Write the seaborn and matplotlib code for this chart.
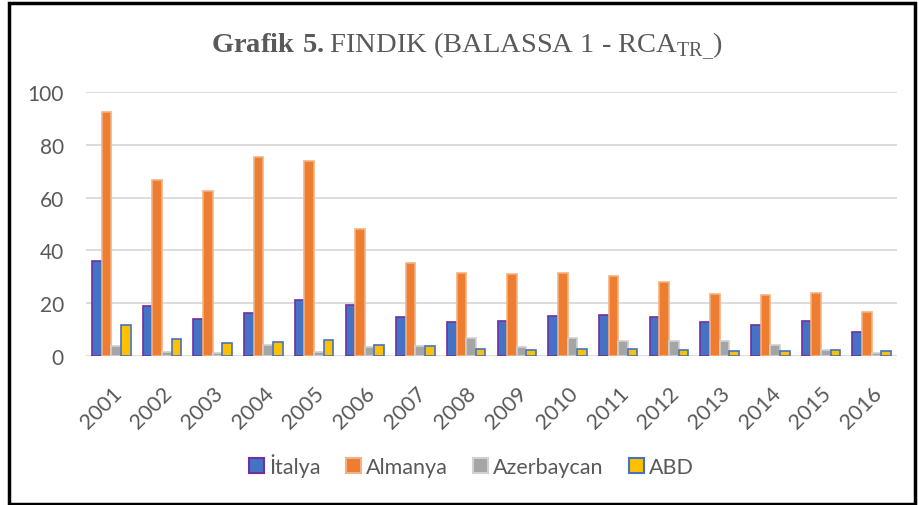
import pandas as pd
import matplotlib.pyplot as plt
import seaborn as sns
from matplotlib.patches import Patch, Rectangle

years = [str(y) for y in range(2001, 2017)]
italya = [36.0, 18.8, 14.2, 16.3, 21.2, 19.2, 14.8, 12.9, 13.4, 15.2, 15.5, 14.7, 13.0, 11.7, 13.4, 9.1]
almanya = [92.4, 66.7, 62.6, 75.4, 73.8, 48.0, 35.2, 31.6, 31.1, 31.4, 30.3, 28.2, 23.5, 23.1, 23.7, 16.8]
azerbaycan = [3.8, 1.7, 1.1, 4.3, 1.5, 3.4, 3.8, 7.0, 3.4, 7.0, 5.5, 5.8, 5.7, 4.2, 2.3, 1.3]
abd = [11.7, 6.6, 4.8, 5.3, 6.2, 4.3, 3.9, 2.8, 2.4, 2.8, 2.6, 2.2, 1.8, 2.0, 2.4, 1.9]

series = ["İtalya", "Almanya", "Azerbaycan", "ABD"]
faces = ["#4472C4", "#ED7D31", "#A5A5A5", "#FFC000"]
edges = ["#7030A0", "#F4B183", "#D0D0D0", "#4472C4"]

df = pd.DataFrame({"Yil": years * 4,
                   "Seri": [s for s in series for _ in years],
                   "Deger": italya + almanya + azerbaycan + abd})

sns.set_style("white")
plt.rcParams["font.family"] = ["Lato", "DejaVu Sans"]
plt.rcParams["mathtext.fontset"] = "custom"
plt.rcParams["mathtext.rm"] = "Liberation Serif"
plt.rcParams["mathtext.bf"] = "Liberation Serif:bold"

fig = plt.figure(figsize=(9.19, 5.06), dpi=100)
ax = fig.add_axes([86 / 919, 1 - 357 / 506, (897 - 86) / 919, (357 - 93) / 506])

sns.barplot(data=df, x="Yil", y="Deger", hue="Seri", palette=faces,
            width=0.76, gap=0, ax=ax, legend=False, saturation=1)
for cont, ec in zip(ax.containers, edges):
    for bar in cont:
        bar.set_edgecolor(ec)
        bar.set_linewidth(1.2)

ax.set_ylim(0, 100)
ax.set_xlim(-0.5, 15.5)
ax.set_yticks([0, 20, 40, 60, 80, 100])
ax.yaxis.grid(True, color="#D9D9D9", linewidth=1.3)
ax.set_axisbelow(True)
for s in ax.spines.values():
    s.set_visible(False)
ax.set_xlabel("")
ax.set_ylabel("")
ax.tick_params(axis="y", length=0, labelsize=15, labelcolor="#595959", pad=16)
ax.tick_params(axis="x", length=0, labelsize=15.5, labelcolor="#595959", pad=19)
plt.setp(ax.get_xticklabels(), rotation=45, ha="right", rotation_mode="anchor")

fig.text(0.508, 0.908,
         r"$\mathbf{Grafik\ 5.}$FINDIK (BALASSA 1 - RCA$_{\mathrm{TR\_}}$)",
         family="Liberation Serif", fontsize=20.5, color="#595959",
         ha="center", va="center")

handles = [Patch(facecolor=f, edgecolor=e, linewidth=1.5) for f, e in zip(faces, edges)]
fig.legend(handles, series, loc="center", bbox_to_anchor=(0.513, 0.079), ncol=4,
           frameon=False, fontsize=15.5, labelcolor="#595959",
           handlelength=0.7, handleheight=0.7, handletextpad=0.25, columnspacing=1.15)

fig.patches.append(Rectangle((9 / 919, 1.5 / 506), 906 / 919, 501 / 506,
                             transform=fig.transFigure, fill=False,
                             edgecolor="black", linewidth=2.5))

fig.savefig("out.png", dpi=100)
